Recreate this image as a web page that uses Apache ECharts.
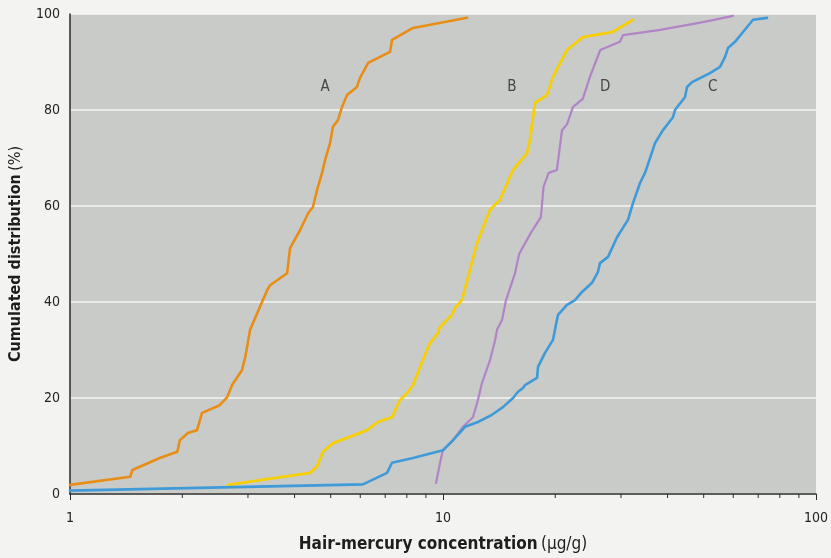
<!DOCTYPE html>
<html>
<head>
<meta charset="utf-8">
<script src="https://cdn.jsdelivr.net/npm/echarts@6/dist/echarts.min.js"></script>
<style>
html,body{margin:0;padding:0;background:#f3f3f1;}
#c{width:831px;height:558px;}
</style>
</head>
<body>
<div id="c"></div>
<script>
// Cumulated distribution curves: [hair-mercury µg/g, cumulated %]
const curveA = [[1.0,1.9],[1.45,3.6],[1.47,5.0],[1.74,7.5],[1.94,8.8],[1.97,11.2],[2.07,12.7],[2.19,13.3],[2.26,16.9],[2.52,18.5],[2.64,20.2],[2.72,22.7],[2.89,25.8],[2.95,28.5],[3.04,34.2],[3.29,40.4],[3.38,42.5],[3.44,43.5],[3.82,46],[3.89,51.2],[4.14,55],[4.35,58.5],[4.48,59.8],[4.62,64],[4.74,66.9],[4.83,69.6],[4.98,73.1],[5.07,76.5],[5.23,77.9],[5.36,80.6],[5.53,83.1],[5.88,84.8],[5.99,86.7],[6.3,89.8],[7.21,92.1],[7.3,94.6],[8.31,97.1],[11.6,99.2]];
const curveB = [[2.65,1.9],[4.40,4.4],[4.59,5.7],[4.77,8.8],[5.07,10.6],[5.53,11.7],[6.26,13.3],[6.69,15],[7.30,16],[7.67,19.6],[8.01,21],[8.31,22.7],[8.68,26.5],[9.23,31.5],[9.70,33.5],[9.82,34.8],[10.57,37.3],[10.77,38.8],[11.24,40.4],[11.81,46.7],[12.34,52.3],[13.37,59.2],[14.22,61.3],[15.41,67.5],[16.8,71],[17.11,73.8],[17.65,81.5],[19.0,83.1],[19.72,86.9],[21.5,92.5],[23.73,95.2],[28.57,96.3],[32.31,98.8]];
const curveD = [[9.58,2.3],[9.82,6.5],[10.0,9.2],[10.64,11.2],[11.31,14],[12.03,16],[12.41,19.6],[12.72,23.1],[13.37,27.9],[13.79,32],[13.96,34.2],[14.4,36.3],[14.76,40.4],[15.6,46],[16.0,50],[17.2,54.4],[18.3,57.7],[18.6,64],[19.2,66.9],[20.2,67.5],[20.85,75.8],[21.5,77],[22.3,80.6],[23.7,82.3],[24.8,87],[26.4,92.5],[29.8,94.2],[30.4,95.6],[38.2,96.7],[49.8,98.3],[59.9,99.6]];
const curveC = [[1,0.7],[6.1,2.0],[7.08,4.4],[7.3,6.5],[8.31,7.5],[10,9.1],[10.64,11.2],[11.46,14],[12.41,15],[13.53,16.5],[14.48,18.1],[15.41,20],[15.89,21.3],[16.39,22.1],[16.59,22.7],[17.87,24.2],[17.98,26.5],[18.77,29.4],[19.72,32.1],[20.21,36.3],[20.34,37.3],[21.5,39.4],[22.59,40.4],[23.59,42.1],[25.09,44],[26.04,46.3],[26.36,48.1],[27.7,49.4],[29.28,53.5],[31.33,57.1],[32.31,60.6],[33.75,64.8],[34.8,66.9],[35.24,68.1],[37.02,73.1],[38.89,75.8],[41.37,78.5],[41.88,80],[44.56,82.7],[45.11,84.8],[46.52,85.8],[51.97,87.7],[55.3,89],[57.02,91],[58.09,92.9],[60.67,94.2],[63.34,96],[67.8,98.8],[73.9,99.2]];

const curveNames = ['A','B','D','C'];
const curveLabelPos = [[4.83,84.8],[15.3,84.8],[27.2,84.8],[52.9,84.8]];
const xMinorTicks = [2,3,4,5,6,7,8,9,20,30,40,50,60,70,80,90];
const xMin = 1, xMax = 100, yMin = 0, yMax = 100, yStep = 20;

const FONT = "'Liberation Sans Narrow','DejaVu Sans Condensed','Liberation Sans',sans-serif";
const colors = {A:'#e88e17', B:'#f6cf06', D:'#b184c7', C:'#3f9ad8'};
const widths = {A:2.6, B:2.8, D:2.2, C:2.6};
const curves = {A:curveA, B:curveB, D:curveD, C:curveC};

const chart = echarts.init(document.getElementById('c'), null, {renderer:'canvas'});

const lineSeries = curveNames.map(n => ({
  name: n, type: 'line', data: curves[n], showSymbol: false, symbol: 'none',
  lineStyle: {color: colors[n], width: widths[n], cap:'round', join:'round'},
  z: 3, silent: true
}));

chart.setOption({
  animation: false,
  backgroundColor: '#f3f3f1',
  grid: {left: 70, right: 15, top: 14, bottom: 64, show: true, backgroundColor: '#c9cbc8', borderWidth: 0},
  xAxis: {
    type: 'log', logBase: 10, min: xMin, max: xMax,
    axisLine: {show: true, lineStyle: {color: '#2b2b2b', width: 1.5}},
    axisTick: {show: true, length: 6, lineStyle: {color: '#2b2b2b', width: 1}},
    minorTick: {show: false},
    splitLine: {show: false},
    axisLabel: {color: '#222', fontFamily: FONT, fontSize: 14, margin: 17},
    name: '{b|Hair-mercury concentration} {n|(\u00b5g/g)}',
    nameLocation: 'middle', nameGap: 42,
    nameTextStyle: {rich: {
      b: {fontFamily: FONT, fontWeight: 'bold', fontSize: 17, color: '#1e1e1e'},
      n: {fontFamily: FONT, fontSize: 17, color: '#1e1e1e'}
    }}
  },
  yAxis: {
    type: 'value', min: yMin, max: yMax, interval: yStep,
    axisLine: {show: true, lineStyle: {color: '#2b2b2b', width: 1.5}},
    axisTick: {show: false},
    splitLine: {show: true, lineStyle: {color: '#f4f4f4', width: 1.5}},
    axisLabel: {color: '#222', fontFamily: FONT, fontSize: 14, margin: 10},
    name: '{b|Cumulated distribution} {n|(%)}',
    nameLocation: 'middle', nameGap: 46, nameRotate: 90,
    nameTextStyle: {rich: {
      b: {fontFamily: FONT, fontWeight: 'bold', fontSize: 16, color: '#1e1e1e'},
      n: {fontFamily: FONT, fontSize: 16, color: '#1e1e1e'}
    }}
  },
  series: [
    ...lineSeries,
    {
      type: 'custom', silent: true, clip: false, z: 4,
      data: xMinorTicks.map(v => [v, yMin]),
      renderItem: (params, api) => {
        const p = api.coord([api.value(0), api.value(1)]);
        return {type: 'line', shape: {x1: p[0], y1: p[1], x2: p[0], y2: p[1] + 4},
                style: {stroke: '#2b2b2b', lineWidth: 1}};
      }
    },
    {
      type: 'scatter', silent: true, symbolSize: 0, z: 5,
      data: curveLabelPos.map((p, i) => ({value: p, name: curveNames[i]})),
      label: {show: true, position: 'inside', formatter: '{b}', color: '#262626',
              fontFamily: FONT, fontSize: 15}
    }
  ]
});
</script>
</body>
</html>
